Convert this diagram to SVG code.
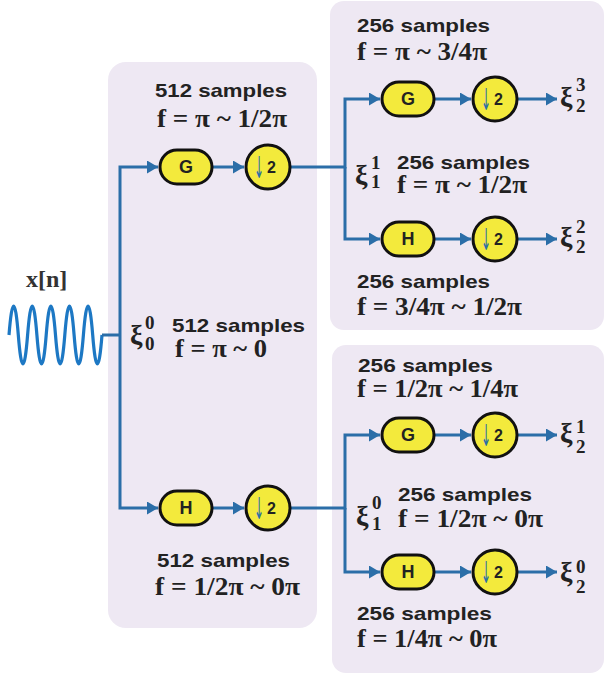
<svg xmlns="http://www.w3.org/2000/svg" width="605" height="677" viewBox="0 0 605 677">
<defs>
<style>
.panel{fill:#eee8f3;stroke:none}
.box{fill:#f3ea3c;stroke:#111;stroke-width:3}
.con{fill:none;stroke:#2b6ea8;stroke-width:3}
.wave{fill:none;stroke:#1d78c4;stroke-width:3.2}
.lbl{font-family:"Liberation Sans",Arial,sans-serif;font-weight:bold;font-size:18px;fill:#222;text-anchor:middle}
.two{font-family:"Liberation Sans",Arial,sans-serif;font-weight:bold;font-size:16px;fill:#222}
.dn{font-family:"DejaVu Sans",sans-serif;font-size:30px;fill:#2b6ea8}
.smp{font-family:"Liberation Sans",Arial,sans-serif;font-weight:bold;font-size:19px;fill:#222}
.frm{font-family:"Liberation Serif","Times New Roman",serif;font-weight:bold;font-size:25px;fill:#222}
.xi{font-family:"Liberation Serif","Times New Roman",serif;font-weight:bold;font-size:28px;fill:#222}
.dig{font-family:"Liberation Serif","Times New Roman",serif;font-weight:bold;font-size:19px;fill:#222}
</style>
<marker id="ah" markerUnits="userSpaceOnUse" markerWidth="12" markerHeight="13" refX="11" refY="6.5" orient="auto">
<path d="M0,0 L11,6.5 L0,13 z" fill="#2b6ea8"/>
</marker>
</defs>

<g id="panels">
<rect class="panel" x="108" y="62" width="209" height="566" rx="18"/>
<rect class="panel" x="330" y="1" width="274" height="329" rx="14"/>
<rect class="panel" x="332" y="345" width="272" height="328" rx="14"/>
</g>

<g id="input">
<text x="26" y="287" style="font-family:'Liberation Serif','Times New Roman',serif;font-weight:bold;font-size:24px;fill:#333">x[n]</text>
<path class="wave" d="M9,335 q4.65,-58 9.3,0 t9.3,0 t9.3,0 t9.3,0 t9.3,0 t9.3,0 t9.3,0 t9.3,0 t9.3,0 t9.3,0"/>
</g>

<g id="connectors">
<path class="con" d="M102,335 H120"/>
<path class="con" d="M120,335 V167 H158" marker-end="url(#ah)"/>
<path class="con" d="M120,335 V508 H158" marker-end="url(#ah)"/>
<path class="con" d="M212,167 H244" marker-end="url(#ah)"/>
<path class="con" d="M212,508 H244" marker-end="url(#ah)"/>
<path class="con" d="M290,167 H345 V99 H380" marker-end="url(#ah)"/>
<path class="con" d="M345,167 V239 H380" marker-end="url(#ah)"/>
<path class="con" d="M290,508 H345 V435 H380" marker-end="url(#ah)"/>
<path class="con" d="M345,508 V572 H380" marker-end="url(#ah)"/>
<path class="con" d="M434,99 H471" marker-end="url(#ah)"/>
<path class="con" d="M434,239 H471" marker-end="url(#ah)"/>
<path class="con" d="M434,435 H471" marker-end="url(#ah)"/>
<path class="con" d="M434,572 H471" marker-end="url(#ah)"/>
<path class="con" d="M517,99 H557" marker-end="url(#ah)"/>
<path class="con" d="M517,239 H557" marker-end="url(#ah)"/>
<path class="con" d="M517,435 H557" marker-end="url(#ah)"/>
<path class="con" d="M517,572 H557" marker-end="url(#ah)"/>
</g>

<g id="G0"><rect class="box" x="160" y="150" width="52" height="34" rx="17"/><text class="lbl" x="186" y="173">G</text></g>
<g id="D0"><circle class="box" cx="268" cy="167" r="22"/><text class="dn" x="254" y="178" textLength="10" lengthAdjust="spacingAndGlyphs">↓</text><text class="two" x="267" y="173">2</text></g>
<g id="H0"><rect class="box" x="160" y="491" width="52" height="34" rx="17"/><text class="lbl" x="186" y="514">H</text></g>
<g id="D1"><circle class="box" cx="268" cy="508" r="22"/><text class="dn" x="254" y="519" textLength="10" lengthAdjust="spacingAndGlyphs">↓</text><text class="two" x="267" y="514">2</text></g>

<g id="G1"><rect class="box" x="382" y="82" width="52" height="34" rx="17"/><text class="lbl" x="408" y="105">G</text></g>
<g id="D2"><circle class="box" cx="495" cy="99" r="22"/><text class="dn" x="481" y="110" textLength="10" lengthAdjust="spacingAndGlyphs">↓</text><text class="two" x="494" y="105">2</text></g>
<g id="H1"><rect class="box" x="382" y="222" width="52" height="34" rx="17"/><text class="lbl" x="408" y="245">H</text></g>
<g id="D3"><circle class="box" cx="495" cy="239" r="22"/><text class="dn" x="481" y="250" textLength="10" lengthAdjust="spacingAndGlyphs">↓</text><text class="two" x="494" y="245">2</text></g>

<g id="G2"><rect class="box" x="382" y="418" width="52" height="34" rx="17"/><text class="lbl" x="408" y="441">G</text></g>
<g id="D4"><circle class="box" cx="495" cy="435" r="22"/><text class="dn" x="481" y="446" textLength="10" lengthAdjust="spacingAndGlyphs">↓</text><text class="two" x="494" y="441">2</text></g>
<g id="H2"><rect class="box" x="382" y="555" width="52" height="34" rx="17"/><text class="lbl" x="408" y="578">H</text></g>
<g id="D5"><circle class="box" cx="495" cy="572" r="22"/><text class="dn" x="481" y="583" textLength="10" lengthAdjust="spacingAndGlyphs">↓</text><text class="two" x="494" y="578">2</text></g>

<g id="labels">
<text class="smp" x="155" y="97" textLength="132" lengthAdjust="spacingAndGlyphs">512 samples</text>
<text class="frm" x="157" y="127" textLength="130" lengthAdjust="spacingAndGlyphs">f = π ~ 1/2π</text>
<text class="smp" x="172" y="332" textLength="133" lengthAdjust="spacingAndGlyphs">512 samples</text>
<text class="frm" x="175" y="357" textLength="92" lengthAdjust="spacingAndGlyphs">f = π ~ 0</text>
<text class="smp" x="157" y="567" textLength="133" lengthAdjust="spacingAndGlyphs">512 samples</text>
<text class="frm" x="155" y="595" textLength="145" lengthAdjust="spacingAndGlyphs">f = 1/2π ~ 0π</text>

<text class="smp" x="357" y="32" textLength="133" lengthAdjust="spacingAndGlyphs">256 samples</text>
<text class="frm" x="357" y="60" textLength="130" lengthAdjust="spacingAndGlyphs">f = π ~ 3/4π</text>
<text class="smp" x="397" y="169" textLength="133" lengthAdjust="spacingAndGlyphs">256 samples</text>
<text class="frm" x="397" y="193" textLength="130" lengthAdjust="spacingAndGlyphs">f = π ~ 1/2π</text>
<text class="smp" x="357" y="288" textLength="133" lengthAdjust="spacingAndGlyphs">256 samples</text>
<text class="frm" x="357" y="315" textLength="165" lengthAdjust="spacingAndGlyphs">f = 3/4π ~ 1/2π</text>

<text class="smp" x="358" y="372" textLength="135" lengthAdjust="spacingAndGlyphs">256 samples</text>
<text class="frm" x="357" y="397" textLength="161" lengthAdjust="spacingAndGlyphs">f = 1/2π ~ 1/4π</text>
<text class="smp" x="398" y="501" textLength="134" lengthAdjust="spacingAndGlyphs">256 samples</text>
<text class="frm" x="398" y="527" textLength="145" lengthAdjust="spacingAndGlyphs">f = 1/2π ~ 0π</text>
<text class="smp" x="357" y="620" textLength="135" lengthAdjust="spacingAndGlyphs">256 samples</text>
<text class="frm" x="357" y="647" textLength="140" lengthAdjust="spacingAndGlyphs">f = 1/4π ~ 0π</text>
</g>

<g id="xi-labels">
<g><text class="xi" x="130" y="344">ξ</text><text class="dig" x="145" y="329">0</text><text class="dig" x="145" y="350">0</text></g>
<g><text class="xi" x="355" y="184">ξ</text><text class="dig" x="371" y="169">1</text><text class="dig" x="371" y="188">1</text></g>
<g><text class="xi" x="356" y="525">ξ</text><text class="dig" x="372" y="509">0</text><text class="dig" x="372" y="530">1</text></g>
<g><text class="xi" x="560" y="106">ξ</text><text class="dig" x="576" y="91">3</text><text class="dig" x="576" y="112">2</text></g>
<g><text class="xi" x="560" y="246">ξ</text><text class="dig" x="576" y="233">2</text><text class="dig" x="576" y="253">2</text></g>
<g><text class="xi" x="560" y="442">ξ</text><text class="dig" x="576" y="433">1</text><text class="dig" x="576" y="453">2</text></g>
<g><text class="xi" x="560" y="581">ξ</text><text class="dig" x="576" y="573">0</text><text class="dig" x="576" y="593">2</text></g>
</g>
</svg>
